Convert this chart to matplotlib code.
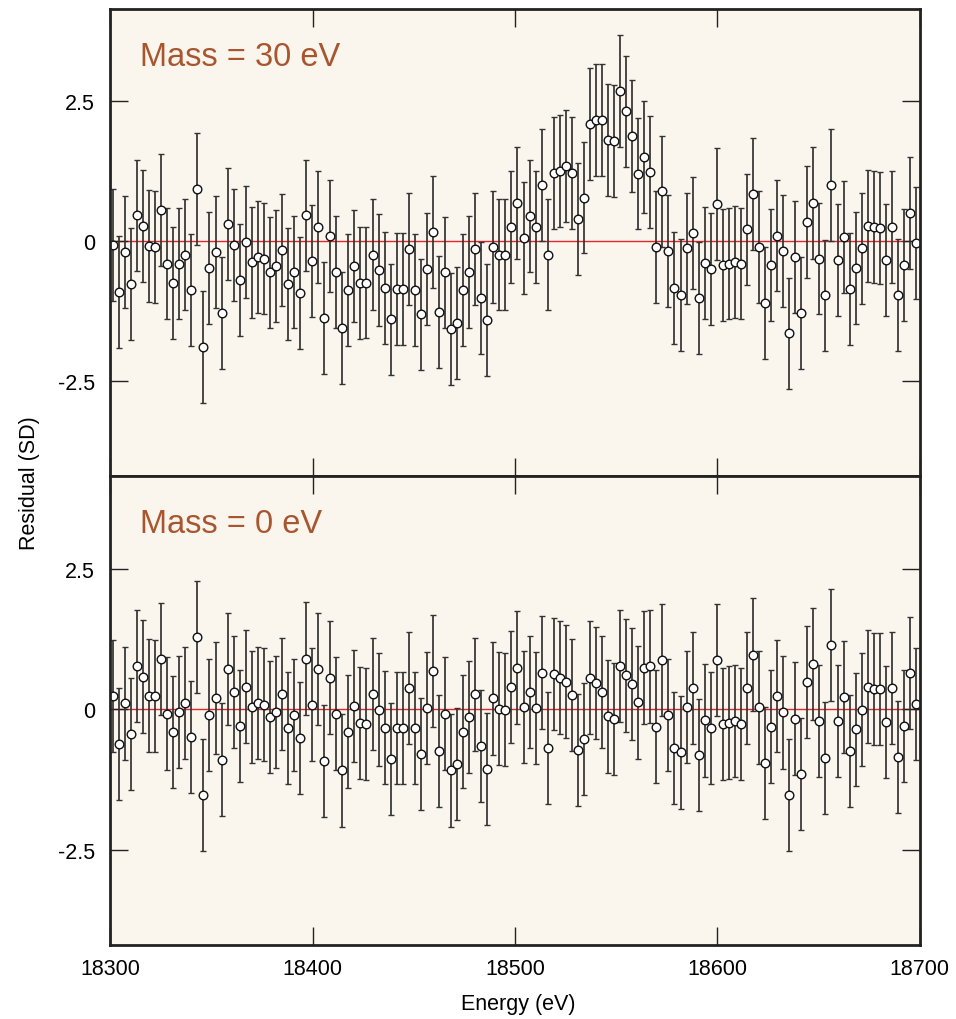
import numpy as np
import matplotlib
matplotlib.use("Agg")
import matplotlib.pyplot as plt

plt.rcParams['font.family'] = ['Liberation Sans', 'DejaVu Sans']

# --- data ---
n_pts = 134
energy = 18301.2 + 2.985 * np.arange(n_pts)   # evenly spaced bins

resid_30 = [
    -0.07, -0.91, -0.20, -0.76, 0.46, 0.27, -0.08, -0.11, 0.56, -0.40,
    -0.75, -0.40, -0.24, -0.87, 0.93, -1.89, -0.48, -0.19, -1.28, 0.31,
    -0.07, -0.69, -0.01, -0.38, -0.28, -0.31, -0.56, -0.45, -0.16, -0.77,
    -0.55, -0.93, 0.46, -0.36, 0.25, -1.38, 0.09, -0.55, -1.55, -0.87,
    -0.44, -0.75, -0.74, -0.24, -0.51, -0.84, -1.40, -0.86, -0.86, -0.14,
    -0.87, -1.31, -0.50, 0.17, -1.27, -0.56, -1.57, -1.47, -0.87, -0.55,
    -0.14, -1.02, -1.41, -0.11, -0.24, -0.24, 0.26, 0.68, 0.05, 0.45,
    0.26, 1.00, -0.24, 1.22, 1.26, 1.35, 1.22, 0.39, 0.78, 2.09,
    2.17, 2.17, 1.81, 1.79, 2.68, 2.32, 1.88, 1.21, 1.51, 1.24,
    -0.10, 0.89, -0.18, -0.84, -0.96, -0.13, 0.15, -1.02, -0.39, -0.50,
    0.67, -0.42, -0.40, -0.37, -0.40, 0.21, 0.84, -0.10, -1.11, -0.43,
    0.10, -0.18, -1.65, -0.28, -1.28, 0.34, 0.68, -0.31, -0.97, 1.01,
    -0.34, 0.07, -0.86, -0.48, -0.13, 0.27, 0.25, 0.23, -0.34, 0.25,
    -0.96, -0.43, 0.50, -0.03,
]

resid_0 = [
    0.23, -0.62, 0.10, -0.44, 0.77, 0.58, 0.24, 0.23, 0.89, -0.08,
    -0.41, -0.05, 0.11, -0.50, 1.28, -1.53, -0.11, 0.20, -0.90, 0.71,
    0.31, -0.30, 0.40, 0.04, 0.11, 0.08, -0.14, -0.05, 0.27, -0.34,
    -0.11, -0.51, 0.90, 0.08, 0.71, -0.92, 0.56, -0.08, -1.09, -0.40,
    0.05, -0.25, -0.27, 0.27, -0.01, -0.33, -0.89, -0.34, -0.34, 0.38,
    -0.34, -0.80, 0.02, 0.68, -0.75, -0.08, -1.09, -0.98, -0.40, -0.14,
    0.26, -0.66, -1.07, 0.19, 0.01, -0.01, 0.39, 0.74, 0.04, 0.31,
    0.02, 0.65, -0.69, 0.62, 0.56, 0.49, 0.25, -0.73, -0.53, 0.56,
    0.47, 0.31, -0.13, -0.18, 0.77, 0.60, 0.45, 0.12, 0.74, 0.76,
    -0.31, 0.87, -0.10, -0.69, -0.77, 0.04, 0.38, -0.82, -0.20, -0.34,
    0.87, -0.26, -0.24, -0.21, -0.26, 0.37, 0.97, 0.03, -0.96, -0.31,
    0.23, -0.06, -1.53, -0.17, -1.16, 0.48, 0.80, -0.21, -0.87, 1.14,
    -0.21, 0.21, -0.75, -0.36, -0.01, 0.40, 0.36, 0.36, -0.23, 0.38,
    -0.85, -0.30, 0.64, 0.09,
]

sigma = 1.0   # residuals are in units of SD

panels = [("Mass = 30 eV", resid_30), ("Mass = 0 eV", resid_0)]
yticks = [-2.5, 0, 2.5]
ytick_labels = ["-2.5", "0", "2.5"]
xticks = [18300, 18400, 18500, 18600, 18700]

bg = "#faf6ee"
frame = "#222222"
text_col = "#a8562f"

fig = plt.figure(figsize=(9.56, 10.2), dpi=100)
left, right = 0.1155, 0.962
tops = [0.990, 0.5324]
bottoms = [0.5324, 0.0725]

for i, (label, resid) in enumerate(panels):
    ax = fig.add_axes([left, bottoms[i], right - left, tops[i] - bottoms[i]])
    ax.set_facecolor(bg)
    ax.axhline(0, color="#e3262b", lw=1.0, zorder=1)
    ax.errorbar(energy, resid, yerr=sigma, fmt="o", ms=6.2, mfc="white",
                mec="#111111", mew=1.0, ecolor="#333333", elinewidth=1.25,
                capsize=2.3, capthick=1.2, zorder=2)
    ax.set_xlim(18300, 18700)
    ax.set_ylim(-4.2, 4.15)
    ax.set_yticks(yticks)
    ax.set_yticklabels(ytick_labels)
    ax.set_xticks(xticks)
    ax.tick_params(direction="in", length=13, width=1.0, color=frame,
                   top=True, right=True, labelsize=15.5, pad=9)
    ax.tick_params(axis="y", pad=11)
    if i == 0:
        ax.tick_params(labelbottom=False)
    for s in ax.spines.values():
        s.set_linewidth(2.0)
        s.set_color(frame)
    ax.text(0.0366, 0.88, label, transform=ax.transAxes, fontsize=23.5,
            color=text_col, ha="left", va="baseline")

fig.text(0.031, 0.5265, "Residual (SD)", rotation=90, ha="center",
         va="center", fontsize=15.5)
fig.text(0.542, 0.015, "Energy (eV)", ha="center", va="center", fontsize=15.5)

fig.savefig("out.png", dpi=100, facecolor="white")
